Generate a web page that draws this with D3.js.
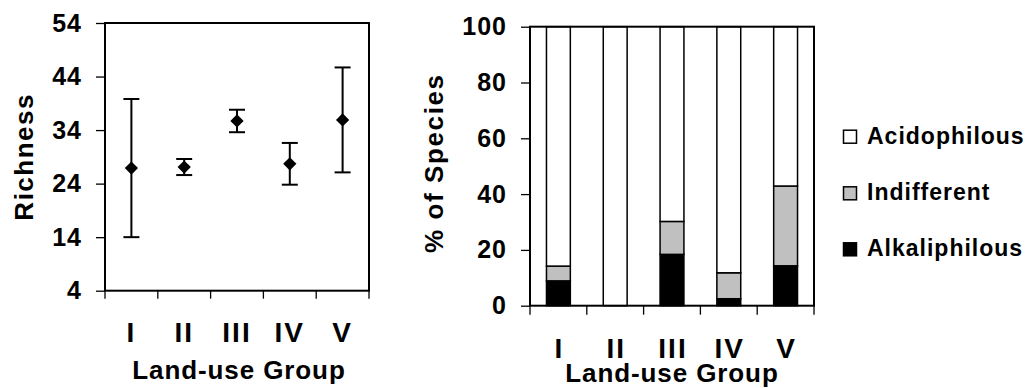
<!DOCTYPE html>
<html>
<head>
<meta charset="utf-8">
<script src="https://cdn.jsdelivr.net/npm/d3@7"></script>
<style>
  body { margin: 0; background: #fff; }
  svg { display: block; font-family: "Liberation Sans", Arial, sans-serif; font-weight: bold; }
</style>
</head>
<body>
<svg id="chart" width="1026" height="388"></svg>
<script>
// land-use groups
const groups = ["I", "II", "III", "IV", "V"];

// richness: mean and error
const richMean = [26.9, 27.1, 35.7, 27.7, 35.9];
const richErr = [12.9, 1.5, 2.1, 3.9, 9.8];
const richTicks = [4, 14, 24, 34, 44, 54];

// % of species by type
const alkaliphilous = [8.9, 0, 18.4, 2.5, 14.3];
const indifferent = [5.3, 0, 11.8, 9.3, 28.6];
const acidophilous = [85.8, 100, 69.8, 88.2, 57.1];
const pctTicks = [0, 20, 40, 60, 80, 100];
const speciesTypes = ["Alkaliphilous", "Indifferent", "Acidophilous"];
const typeColors = ["#000000", "#c0c0c0", "#ffffff"];

const svg = d3.select("#chart");

// ---------- left panel: richness ----------
const L = {left: 105, right: 369, top: 23, bottom: 290.7};

const x1 = d3.scaleBand().domain(groups).range([L.left, L.right]);
const y1 = d3.scaleLinear().domain([4, 54]).range([L.bottom, L.top]);

const g1 = svg.append("g");

g1.append("g")
    .attr("transform", "translate(" + L.left + ",0)")
    .call(d3.axisLeft(y1).tickValues(richTicks).tickSize(9).tickPadding(14))
    .call(g => g.select(".domain").remove())
    .call(g => g.selectAll("line").attr("stroke-width", 1.3))
    .call(g => g.selectAll("text")
        .attr("font-size", 25).attr("font-family", "Liberation Sans, Arial")
        .attr("font-weight", "bold").attr("letter-spacing", 1).attr("fill", "#000"));

// category tick marks at band edges
const edges1 = groups.map(d => x1(d)).concat([L.right]);
g1.selectAll(".xtick")
    .data(edges1)
    .enter().append("line")
        .attr("x1", d => d).attr("x2", d => d)
        .attr("y1", L.bottom).attr("y2", L.bottom + 8)
        .attr("stroke", "#000").attr("stroke-width", 1.3);

g1.selectAll(".xlab")
    .data(groups)
    .enter().append("text")
        .attr("x", d => x1(d) + x1.bandwidth() / 2)
        .attr("y", 342)
        .attr("text-anchor", "middle")
        .attr("font-size", 28)
        .attr("letter-spacing", 2)
        .text(d => d);

g1.append("rect")
    .attr("x", L.left).attr("y", L.top)
    .attr("width", L.right - L.left).attr("height", L.bottom - L.top)
    .attr("fill", "none").attr("stroke", "#000").attr("stroke-width", 2);

// error bars
const richData = groups.map((g, i) => ({g: g, m: richMean[i], e: richErr[i]}));
const capW = 8;

g1.selectAll(".ebar")
    .data(richData)
    .enter().append("line")
        .attr("x1", d => x1(d.g) + x1.bandwidth() / 2)
        .attr("x2", d => x1(d.g) + x1.bandwidth() / 2)
        .attr("y1", d => y1(d.m - d.e))
        .attr("y2", d => y1(d.m + d.e))
        .attr("stroke", "#000").attr("stroke-width", 2);

[-1, 1].forEach(function(s) {
    g1.selectAll(".cap" + s)
        .data(richData)
        .enter().append("line")
            .attr("x1", d => x1(d.g) + x1.bandwidth() / 2 - capW)
            .attr("x2", d => x1(d.g) + x1.bandwidth() / 2 + capW)
            .attr("y1", d => y1(d.m + s * d.e))
            .attr("y2", d => y1(d.m + s * d.e))
            .attr("stroke", "#000").attr("stroke-width", 2);
});

// diamonds
g1.selectAll(".pt")
    .data(richData)
    .enter().append("path")
        .attr("d", d3.symbol().type(d3.symbolSquare).size(88))
        .attr("transform", d => "translate(" + (x1(d.g) + x1.bandwidth() / 2) + "," + y1(d.m) + ") rotate(45)")
        .attr("fill", "#000");

g1.append("text")
    .attr("transform", "translate(32.5," + ((L.top + L.bottom) / 2) + ") rotate(-90)")
    .attr("text-anchor", "middle")
    .attr("font-size", 26)
    .attr("letter-spacing", 1.5)
    .text("Richness");

g1.append("text")
    .attr("x", (L.left + L.right) / 2 + 2)
    .attr("y", 378.5)
    .attr("text-anchor", "middle")
    .attr("font-size", 26)
    .attr("letter-spacing", 0.9)
    .text("Land-use Group");

// ---------- right panel: % of species ----------
const R = {left: 530, right: 814, top: 26.7, bottom: 305.7};

const x2 = d3.scaleBand().domain(groups).range([R.left, R.right]);
const xb = d3.scaleBand().domain(groups).range([R.left, R.right])
    .paddingInner(0.58).paddingOuter(0.29);
const y2 = d3.scaleLinear().domain([0, 100]).range([R.bottom, R.top]);

const g2 = svg.append("g");

g2.append("g")
    .attr("transform", "translate(" + R.left + ",0)")
    .call(d3.axisLeft(y2).tickValues(pctTicks).tickSize(9).tickPadding(14))
    .call(g => g.select(".domain").remove())
    .call(g => g.selectAll("line").attr("stroke-width", 1.3))
    .call(g => g.selectAll("text")
        .attr("font-size", 25).attr("font-family", "Liberation Sans, Arial")
        .attr("font-weight", "bold").attr("letter-spacing", 1).attr("fill", "#000"));

const edges2 = groups.map(d => x2(d)).concat([R.right]);
g2.selectAll(".xtick")
    .data(edges2)
    .enter().append("line")
        .attr("x1", d => d).attr("x2", d => d)
        .attr("y1", R.bottom).attr("y2", R.bottom + 9)
        .attr("stroke", "#000").attr("stroke-width", 1.3);

g2.selectAll(".xlab")
    .data(groups)
    .enter().append("text")
        .attr("x", d => x2(d) + x2.bandwidth() / 2 + 1)
        .attr("y", 357.5)
        .attr("text-anchor", "middle")
        .attr("font-size", 28)
        .attr("letter-spacing", 2)
        .text(d => d);

// stacked bars
const table = groups.map((g, i) => ({
    group: g,
    Alkaliphilous: alkaliphilous[i],
    Indifferent: indifferent[i],
    Acidophilous: acidophilous[i]
}));
const stacked = d3.stack().keys(speciesTypes)(table);

stacked.forEach(function(layer, k) {
    g2.selectAll(".bar" + k)
        .data(layer.filter(d => d[1] - d[0] > 0))
        .enter().append("rect")
            .attr("x", d => xb(d.data.group))
            .attr("width", xb.bandwidth())
            .attr("y", d => y2(d[1]))
            .attr("height", d => y2(d[0]) - y2(d[1]))
            .attr("fill", typeColors[k])
            .attr("stroke", "#000")
            .attr("stroke-width", 1.5);
});

g2.append("rect")
    .attr("x", R.left).attr("y", R.top)
    .attr("width", R.right - R.left).attr("height", R.bottom - R.top)
    .attr("fill", "none").attr("stroke", "#000").attr("stroke-width", 2);

g2.append("text")
    .attr("transform", "translate(443," + ((R.top + R.bottom) / 2 - 3) + ") rotate(-90)")
    .attr("text-anchor", "middle")
    .attr("font-size", 26)
    .attr("letter-spacing", 1.6)
    .text("% of Species");

g2.append("text")
    .attr("x", (R.left + R.right) / 2)
    .attr("y", 382)
    .attr("text-anchor", "middle")
    .attr("font-size", 26)
    .attr("letter-spacing", 0.9)
    .text("Land-use Group");

// legend (top to bottom: Acidophilous, Indifferent, Alkaliphilous)
const legendY = [136.7, 193.3, 249.3];
const legendItems = speciesTypes.slice().reverse();
const legendColors = typeColors.slice().reverse();

const leg = svg.append("g");
leg.selectAll("rect")
    .data(legendItems)
    .enter().append("rect")
        .attr("x", 843.5)
        .attr("y", (d, i) => legendY[i] - 6.5)
        .attr("width", 13).attr("height", 13)
        .attr("fill", (d, i) => legendColors[i])
        .attr("stroke", "#000").attr("stroke-width", 1.5);

leg.selectAll("text")
    .data(legendItems)
    .enter().append("text")
        .attr("x", 867)
        .attr("y", (d, i) => legendY[i] + 7)
        .attr("font-size", 23)
        .attr("letter-spacing", 1)
        .text(d => d);
</script>
</body>
</html>
